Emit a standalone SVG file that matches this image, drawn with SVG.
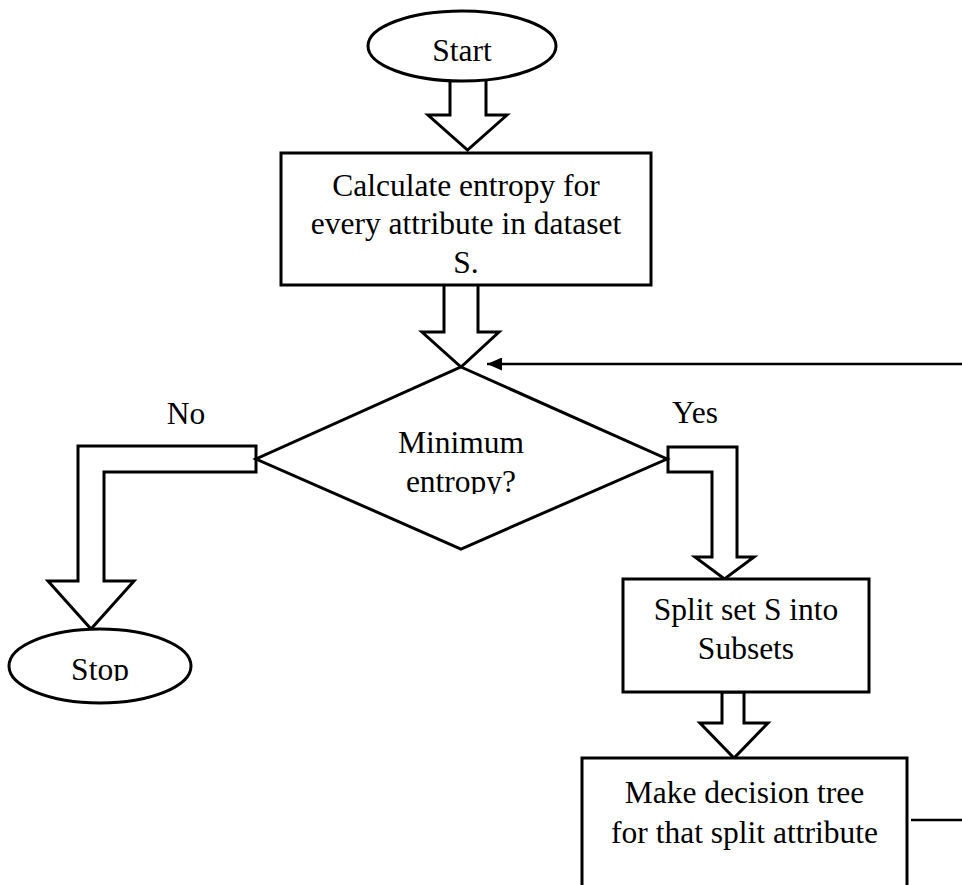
<svg xmlns="http://www.w3.org/2000/svg" width="962" height="885" viewBox="0 0 962 885">
  <style>
    .shape { fill: #ffffff; stroke: #000000; stroke-width: 3; stroke-linejoin: miter; }
    .block { fill: #ffffff; stroke: #000000; stroke-width: 3; stroke-linejoin: miter; }
    .line { fill: none; stroke: #000000; stroke-width: 2.5; }
    .label { font-family: "Liberation Serif", "Times New Roman", serif; font-size: 31.5px; fill: #000000; text-anchor: middle; }
  </style>
  <defs>
    <marker id="arrowHead" markerWidth="16" markerHeight="13" refX="15" refY="6.5" orient="auto" markerUnits="userSpaceOnUse">
      <polygon points="0,0 15,6.5 0,13" fill="#000000"/>
    </marker>
    <!-- text boxes that cut off the last line of the decision and stop labels -->
    <clipPath id="clipDecision"><rect x="256" y="367" width="411" height="127"/></clipPath>
    <clipPath id="clipStop"><rect x="0" y="620" width="200" height="61"/></clipPath>
  </defs>

  <!-- connectors: block arrows and feedback lines -->
  <g id="connectors">
    <polygon class="block" points="450,70 486,70 486,115 507,115 467.5,150 428,115 450,115"/>
    <polygon class="block" points="444,280 478,280 478,332 499,332 461,367 422,332 444,332"/>
    <polygon class="block" points="256,446 78,446 78,581 48,581 91,629 134,581 104,581 104,472 256,472"/>
    <polygon class="block" points="668,447 737,447 737,557 754,557 724.5,579 695,557 712,557 712,472 668,472"/>
    <polygon class="block" points="722,692 744,692 744,723 768,723 734,758 700,723 722,723"/>
    <line class="line" x1="962" y1="364" x2="487" y2="364" marker-end="url(#arrowHead)"/>
    <line class="line" x1="911" y1="820" x2="962" y2="820"/>
    <text class="label" x="186" y="424">No</text>
    <text class="label" x="695" y="423">Yes</text>
  </g>

  <g id="start">
    <ellipse class="shape" cx="462" cy="46" rx="94" ry="35"/>
    <text class="label" x="462" y="61">Start</text>
  </g>

  <g id="calculate">
    <rect class="shape" x="281" y="153" width="370" height="132"/>
    <text class="label" x="466" y="196">Calculate entropy for</text>
    <text class="label" x="466" y="234">every attribute in dataset</text>
    <text class="label" x="466" y="273">S.</text>
  </g>

  <g id="decision">
    <polygon class="shape" points="461,367 667,459 461,549 256,459"/>
    <g clip-path="url(#clipDecision)">
      <text class="label" x="461" y="453">Minimum</text>
      <text class="label" x="461" y="492">entropy?</text>
    </g>
  </g>

  <g id="stop">
    <ellipse class="shape" cx="100" cy="666" rx="91" ry="37"/>
    <text class="label" x="100" y="680" clip-path="url(#clipStop)">Stop</text>
  </g>

  <g id="split">
    <rect class="shape" x="623" y="579" width="246" height="113"/>
    <text class="label" x="746" y="620">Split set S into</text>
    <text class="label" x="746" y="659">Subsets</text>
  </g>

  <g id="make-tree">
    <rect class="shape" x="582" y="758" width="325" height="140"/>
    <text class="label" x="744.5" y="803">Make decision tree</text>
    <text class="label" x="744.5" y="843">for that split attribute</text>
  </g>
</svg>
